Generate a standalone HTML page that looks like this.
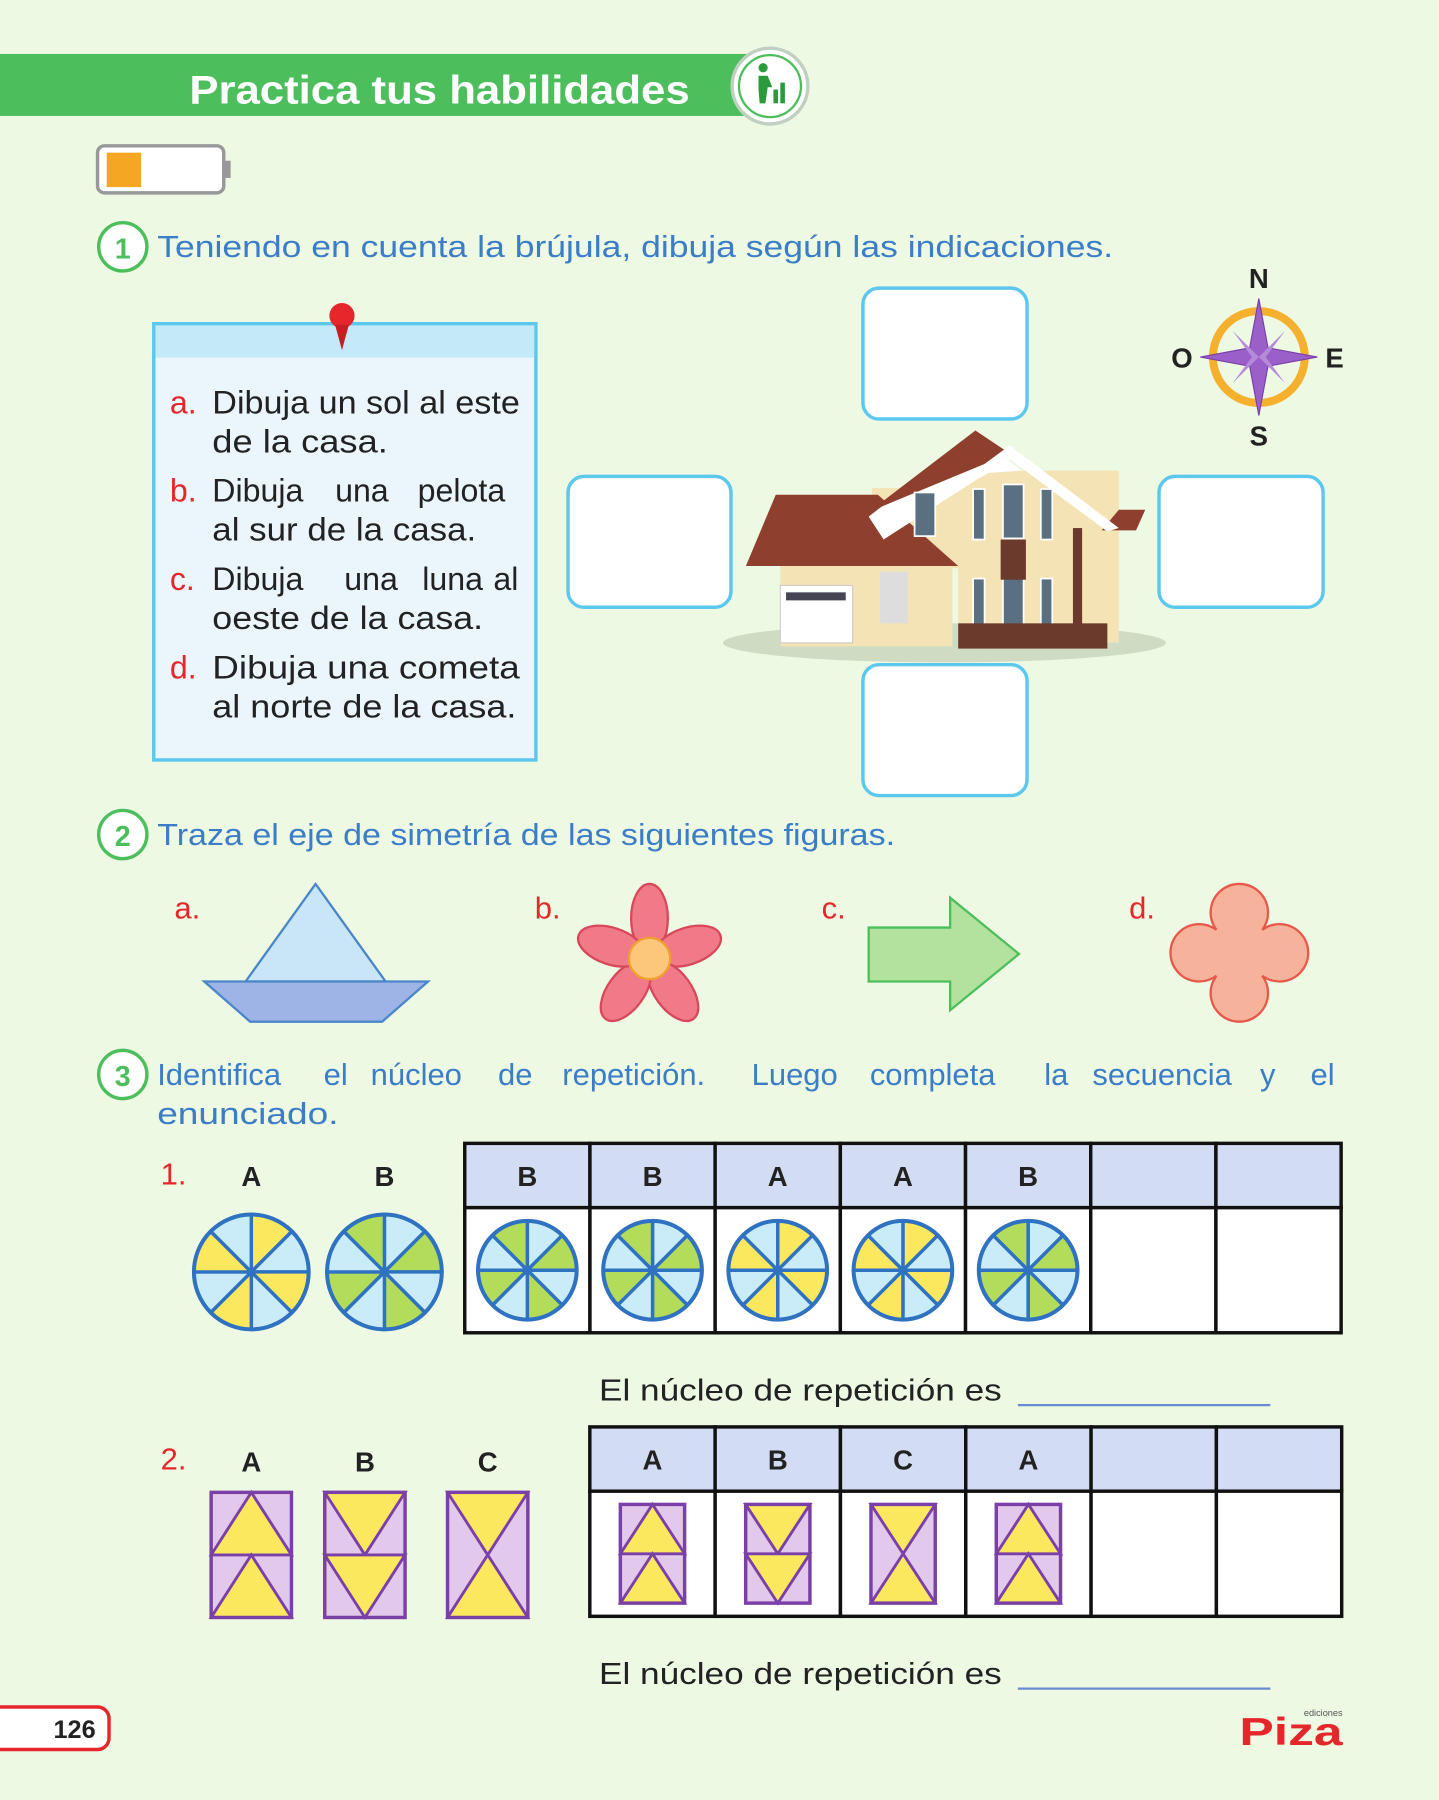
<!DOCTYPE html>
<html><head><meta charset="utf-8"><style>
html,body{margin:0;padding:0;background:#eef9e4;}
svg{display:block;}
text{font-family:"Liberation Sans","DejaVu Sans",sans-serif;}
</style></head><body>
<svg id="page" width="1439" height="1800" viewBox="0 0 1254 1568" preserveAspectRatio="none" xmlns="http://www.w3.org/2000/svg">
<rect width="1254" height="1568" fill="#eef9e4"/>
<g>
<rect x="0" y="47" width="655" height="54" fill="#4cbf5c"/>
<text x="165" y="90" font-size="35" font-weight="bold" fill="#fff" textLength="436" lengthAdjust="spacingAndGlyphs">Practica tus habilidades</text>
<circle cx="671" cy="75" r="33" fill="#fff" stroke="#bfcfc0" stroke-width="3"/>
<circle cx="671" cy="75" r="27" fill="#fff" stroke="#4cbf5c" stroke-width="2"/>
<circle cx="665" cy="59" r="4" fill="#2a9a3a"/>
<path d="M661 66h8l4 10h-4l-2 14h-5l-1-12z" fill="#2a9a3a"/>
<rect x="674" y="78" width="4" height="12" fill="#2a9a3a"/><rect x="680" y="72" width="4" height="18" fill="#2a9a3a"/>
</g>
<g>
<rect x="85" y="127" width="110" height="41" rx="6" fill="#fff" stroke="#999" stroke-width="3"/>
<rect x="195" y="140" width="6" height="15" fill="#999"/>
<rect x="93" y="133" width="30" height="30" fill="#f5a623"/>
</g>
<g>
<circle cx="107" cy="215" r="21" fill="#fff" stroke="#4cbf5c" stroke-width="3"/>
<text x="107" y="225" font-size="25" font-weight="bold" fill="#4cbf5c" text-anchor="middle">1</text>
<text x="137" y="224" font-size="27" fill="#3b7dc6" textLength="833" lengthAdjust="spacingAndGlyphs">Teniendo en cuenta la brújula, dibuja según las indicaciones.</text>
</g>
<g>
<rect x="134" y="282" width="333" height="380" fill="#eaf6fb" stroke="#5cc8ee" stroke-width="3"/>
<rect x="135.5" y="283.5" width="330" height="28" fill="#c4e9f9"/>
<circle cx="298" cy="275" r="11" fill="#e5262b"/><path d="M292 283 l12 0 -6 22z" fill="#c81e22"/>
<g font-size="28" fill="#222">
<text x="148" y="360" fill="#e5262b">a.</text><text x="185" y="360" textLength="268" lengthAdjust="spacingAndGlyphs">Dibuja un sol al este</text><text x="185" y="394" textLength="153" lengthAdjust="spacingAndGlyphs">de la casa.</text>
<text x="148" y="437" fill="#e5262b">b.</text><text y="437"><tspan x="185">Dibuja</tspan><tspan x="292">una</tspan><tspan x="364">pelota</tspan></text><text x="185" y="471" textLength="230" lengthAdjust="spacingAndGlyphs">al sur de la casa.</text>
<text x="148" y="514" fill="#e5262b">c.</text><text y="514"><tspan x="185">Dibuja</tspan><tspan x="300">una</tspan><tspan x="368">luna</tspan><tspan x="430">al</tspan></text><text x="185" y="548" textLength="236" lengthAdjust="spacingAndGlyphs">oeste de la casa.</text>
<text x="148" y="591" fill="#e5262b">d.</text><text x="185" y="591" textLength="268" lengthAdjust="spacingAndGlyphs">Dibuja una cometa</text><text x="185" y="625" textLength="265" lengthAdjust="spacingAndGlyphs">al norte de la casa.</text>
</g></g>
<g fill="#fff" stroke="#5cc8ee" stroke-width="3">
<rect x="752" y="251" width="143" height="114" rx="14"/>
<rect x="495" y="415" width="142" height="114" rx="14"/>
<rect x="1010" y="415" width="143" height="114" rx="14"/>
<rect x="752" y="579" width="143" height="114" rx="14"/>
</g>
<g>
<ellipse cx="823" cy="560" rx="193" ry="17" fill="#cfdcc3"/>
<rect x="680" y="488" width="150" height="75" fill="#f4e3b4"/>
<rect x="760" y="425" width="95" height="70" fill="#f4e3b4"/>
<rect x="835" y="410" width="140" height="150" fill="#f4e3b4"/>
<polygon points="650,493 676,431 765,431 835,493" fill="#8e3f2e"/>
<polygon points="975,444 998,444 990,462 960,462" fill="#8e3f2e"/>
<polygon points="757,450 850,378 890,410 860,412 770,470" fill="#fff"/>
<polygon points="757,446 850,375 880,395" fill="#8e3f2e"/>
<polygon points="850,410 880,388 975,460 965,463 880,400 855,416" fill="#fff"/>
<rect x="680" y="510" width="63" height="50" fill="#fff" stroke="#ccc"/>
<rect x="685" y="516" width="52" height="7" fill="#445"/>
<rect x="767" y="498" width="24" height="45" fill="#ddd"/>
<g fill="#5a6f80" stroke="#fff" stroke-width="1.5">
<rect x="797" y="429" width="18" height="38"/><rect x="874" y="422" width="18" height="47"/>
<rect x="848" y="426" width="10" height="44"/><rect x="907" y="426" width="10" height="44"/>
<rect x="874" y="504" width="18" height="44"/><rect x="848" y="504" width="10" height="44"/><rect x="907" y="504" width="10" height="44"/>
</g>
<rect x="872" y="470" width="22" height="35" fill="#6b3a2c"/>
<rect x="835" y="543" width="130" height="22" fill="#6b3a2c"/>
<rect x="935" y="460" width="8" height="100" fill="#6b3a2c"/>
</g>
<g>
<circle cx="1097" cy="311" r="40" fill="none" stroke="#f5b12e" stroke-width="7"/>
<polygon points="1097,260 1105,303 1148,311 1105,319 1097,362 1089,319 1046,311 1089,303" fill="#9a5fc8" stroke="#7a3fa8"/>
<polygon points="1097,311 1120,288 1103,311 1120,334 1097,311 1074,334 1091,311 1074,288" fill="#b58ad8"/>
<g font-size="24" font-weight="bold" fill="#222" text-anchor="middle">
<text x="1097" y="251">N</text><text x="1030" y="320">O</text><text x="1163" y="320">E</text><text x="1097" y="388">S</text></g>
</g>
<g>
<circle cx="107" cy="727" r="21" fill="#fff" stroke="#4cbf5c" stroke-width="3"/>
<text x="107" y="737" font-size="25" font-weight="bold" fill="#4cbf5c" text-anchor="middle">2</text>
<text x="137" y="736" font-size="27" fill="#3b7dc6" textLength="643" lengthAdjust="spacingAndGlyphs">Traza el eje de simetría de las siguientes figuras.</text>
<g font-size="27" fill="#e5262b"><text x="152" y="800">a.</text><text x="466" y="800">b.</text><text x="716" y="800">c.</text><text x="984" y="800">d.</text></g>
<g>
<polygon points="214,855 275,770 336,855" fill="#c9e6f8" stroke="#4a86c8" stroke-width="2"/>
<polygon points="178,855 373,855 333,890 218,890" fill="#9fb4e6" stroke="#4a86c8" stroke-width="2"/>
</g>
<g fill="#f17a88" stroke="#d8475a" stroke-width="2">
<ellipse cx="566" cy="800" rx="16" ry="30"/>
<ellipse cx="566" cy="800" rx="16" ry="30" transform="rotate(72 566 835)"/>
<ellipse cx="566" cy="800" rx="16" ry="30" transform="rotate(144 566 835)"/>
<ellipse cx="566" cy="800" rx="16" ry="30" transform="rotate(216 566 835)"/>
<ellipse cx="566" cy="800" rx="16" ry="30" transform="rotate(288 566 835)"/>
<circle cx="566" cy="835" r="18" fill="#fcc77a" stroke="#f0a030"/>
</g>
<polygon points="757,808 828,808 828,782 888,831 828,880 828,855 757,855" fill="#b3e19e" stroke="#4cbf5c" stroke-width="2"/>
<g fill="#f6b29a" stroke="#e8584a" stroke-width="2">
<path d="M1060,810 A25,25 0 1 1 1100,810 A25,25 0 1 1 1100,850 A25,25 0 1 1 1060,850 A25,25 0 1 1 1060,810Z"/>
</g>
</g>
<g>
<circle cx="107" cy="936" r="21" fill="#fff" stroke="#4cbf5c" stroke-width="3"/>
<text x="107" y="946" font-size="25" font-weight="bold" fill="#4cbf5c" text-anchor="middle">3</text>
<text y="945" font-size="27" fill="#3b7dc6"><tspan x="137">Identifica</tspan><tspan x="282">el</tspan><tspan x="323">núcleo</tspan><tspan x="434">de</tspan><tspan x="490">repetición.</tspan><tspan x="655">Luego</tspan><tspan x="758">completa</tspan><tspan x="910">la</tspan><tspan x="952">secuencia</tspan><tspan x="1098">y</tspan><tspan x="1142">el</tspan></text>
<text x="137" y="979" font-size="27" fill="#3b7dc6" textLength="158" lengthAdjust="spacingAndGlyphs">enunciado.</text>
<text x="140" y="1032" font-size="27" fill="#e5262b">1.</text>
<text x="140" y="1280" font-size="27" fill="#e5262b">2.</text>
<text x="522" y="1220" font-size="27" fill="#222" textLength="351" lengthAdjust="spacingAndGlyphs">El núcleo de repetición es</text>
<line x1="887" y1="1224" x2="1107" y2="1224" stroke="#6a8ad0" stroke-width="2"/>
<text x="522" y="1467" font-size="27" fill="#222" textLength="351" lengthAdjust="spacingAndGlyphs">El núcleo de repetición es</text>
<line x1="887" y1="1471" x2="1107" y2="1471" stroke="#6a8ad0" stroke-width="2"/>
</g>
<g id="seq"></g>
<g>
<path d="M0,1487 H85 a10,10 0 0 1 10,10 V1514 a10,10 0 0 1 -10,10 H0" fill="#fff" stroke="#e5262b" stroke-width="3"/>
<text x="65" y="1514" font-size="22" font-weight="bold" fill="#222" text-anchor="middle">126</text>
</g>
<g>
<text x="1170" y="1495" font-size="8" fill="#555" text-anchor="end">ediciones</text>
<text x="1080" y="1520" font-size="34" font-weight="bold" fill="#e5262b" textLength="90" lengthAdjust="spacingAndGlyphs">Piza</text>
</g>
</svg>
<script>
const NS="http://www.w3.org/2000/svg";
const core1=["A","B"];
const seq1=["B","B","A","A","B","",""];
const core2=["A","B","C"];
const seq2=["A","B","C","A","",""];
const g=document.getElementById('seq');
function el(t,a,p){const e=document.createElementNS(NS,t);for(const k in a)e.setAttribute(k,a[k]);(p||g).appendChild(e);return e;}
function label(x,y,s){const t=el('text',{x:x,y:y,'font-size':24,'font-weight':'bold',fill:'#222','text-anchor':'middle'});t.textContent=s;

}
function wheel(cx,cy,r,type){
 const w=el('g',{});
 
 
 for(let i=0;i<8;i++){
  const a0=(i*45-90)*Math.PI/180,a1=((i+1)*45-90)*Math.PI/180;
  let f='#c9ecf8';
  if(type==='A'&&i%2===0)f='#fbe85e';
  if(type==='B'&&i%2===1)f='#b3dc5a';
  el('path',{d:`M${cx},${cy} L${cx+r*Math.cos(a0)},${cy+r*Math.sin(a0)} A${r},${r} 0 0 1 ${cx+r*Math.cos(a1)},${cy+r*Math.sin(a1)}Z`,fill:f,stroke:'#2f72c2','stroke-width':3},w);
 }
 el('circle',{cx:cx,cy:cy,r:r,fill:'none',stroke:'#2f72c2','stroke-width':3.5},w);
}
function tri(x,y,w,h,type){
 const q=el('g',{});
 
 
 el('rect',{x:x,y:y,width:w,height:h,fill:'#e2c8ea'},q);
 const m=y+h/2,c=x+w/2,b=y+h;
 let ps;
 if(type==='A')ps=[`${c},${y} ${x+w},${m} ${x},${m}`,`${c},${m} ${x+w},${b} ${x},${b}`];
 else if(type==='B')ps=[`${x},${y} ${x+w},${y} ${c},${m}`,`${x},${m} ${x+w},${m} ${c},${b}`];
 else ps=[`${x},${y} ${x+w},${y} ${c},${m}`,`${c},${m} ${x+w},${b} ${x},${b}`];
 ps.forEach(p=>el('polygon',{points:p,fill:'#fbe85e',stroke:'#7b3fa8','stroke-width':2.5},q));
 el('rect',{x:x,y:y,width:w,height:h,fill:'none',stroke:'#7b3fa8','stroke-width':3},q);
}
const c1x=[219,335];
core1.forEach((s,i)=>{label(c1x[i],1033,s);wheel(c1x[i],1108,50,s);});
function table(x0,y0,cols,cw,hh,bh,seq,draw){
 const t=el('g',{});
 
 
 seq.forEach((s,i)=>{
  const x=x0+i*cw;
  el('rect',{x:x,y:y0,width:cw,height:hh,fill:'#d2ddf3',stroke:'#111','stroke-width':3},t);
  const cell=el('rect',{x:x,y:y0+hh,width:cw,height:bh,fill:'#fff',stroke:'#111','stroke-width':3},t);
  
  
  if(s){label(x+cw/2,y0+37,s);draw(x+cw/2,y0+hh+bh/2,s);}
 });
}
table(405,996,7,109.1,56,109,seq1,(cx,cy,s)=>wheel(cx,cy,43,s));
const c2x=[219,318,425];
core2.forEach((s,i)=>{label(c2x[i],1282,s);tri(c2x[i]-35,1300,70,109,s);});
table(514,1243,6,109.2,56,109,seq2,(cx,cy,s)=>tri(cx-28,cy-43,56,86,s));
</script>
</body></html>
